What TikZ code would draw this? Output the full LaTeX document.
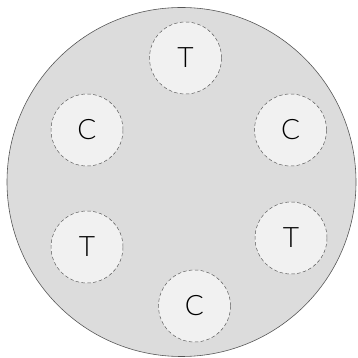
\documentclass[tikz,border=0pt]{standalone}
\usepackage{fontspec}
\setmainfont{Lato}[UprightFont={* Light}]
\definecolor{DishGray}{HTML}{DCDCDC}
\definecolor{WellGray}{HTML}{F1F1F1}
\definecolor{RimGray}{HTML}{555555}
\tikzset{
  well/.style={circle, draw=RimGray, densely dashed, line width=0.4pt, fill=WellGray, minimum size=2.16cm, inner sep=0, font=\fontsize{24}{24}\selectfont, text=black}
}
\begin{document}
\begin{tikzpicture}
    \useasboundingbox (0,0) rectangle (10.71,10.74);
    \node[circle, draw=RimGray, fill=DishGray, line width=0.5pt, minimum size=10.47cm, inner sep=0] (dish) at (5.445,5.28) {};
    \node[well] (tTop) at (5.565,9.0) {T};
    \node[well] (cLeft) at (2.61,6.84) {C};
    \node[well] (cRight) at (8.715,6.84) {C};
    \node[well] (tLeft) at (2.61,3.33) {T};
    \node[well] (tRight) at (8.73,3.6) {T};
    \node[well] (cBottom) at (5.835,1.56) {C};
  \end{tikzpicture}
\end{document}
